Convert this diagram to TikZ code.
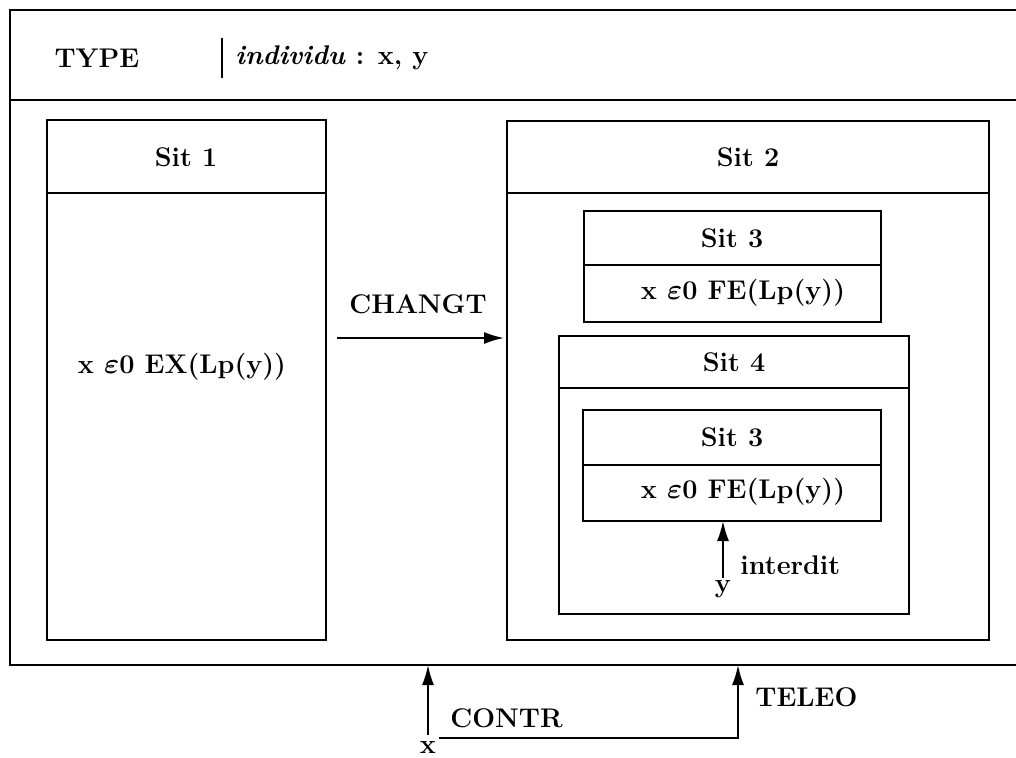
\documentclass[tikz,border=0pt]{standalone}
\usetikzlibrary{arrows.meta,fit}
\begin{document}
\begin{tikzpicture}[x=0.5pt,y=-0.5pt,
  frame/.style={line width=0.95pt},
  box/.style={draw,line width=0.95pt,inner sep=0pt},
  lbl/.style={font=\fontsize{13.5}{16}\selectfont\bfseries,inner sep=1pt},
  arr/.style={line width=0.95pt,-{Latex[length=10pt,width=6pt]}}]
\useasboundingbox (0,0) rectangle (1016,758);
% outer frame
\draw[frame] (1016,10) -- (10,10) -- (10,665) -- (1016,665);
\draw[frame] (10,100) -- (1016,100);
\node[lbl] (type) at (97,58) {TYPE};
\draw[frame] (222,38) -- (222,78);
\node[lbl,anchor=west] (indiv) at (233,58) {\textit{individu} : x, y};
% Sit 1
\node[box,fit={(47,120)(326,640)}] (sit1) {};
\draw[frame] (47,193) -- (326,193);
\node[lbl] (s1t) at (186,157) {Sit 1};
\node[lbl] (s1c) at (182,367) {x {\boldmath$\varepsilon$}0 EX(Lp(y))};
% Sit 2
\node[box,fit={(507,121)(989,640)}] (sit2) {};
\draw[frame] (507,193) -- (989,193);
\node[lbl] (s2t) at (748,157) {Sit 2};
% Sit 3 (top)
\node[box,fit={(584,211)(881,322)}] (sit3a) {};
\draw[frame] (584,265) -- (881,265);
\node[lbl] (s3at) at (732,238) {Sit 3};
\node[lbl] (s3ac) at (743,293) {x {\boldmath$\varepsilon$}0 FE(Lp(y))};
% Sit 4
\node[box,fit={(559,336)(909,614)}] (sit4) {};
\draw[frame] (559,388) -- (909,388);
\node[lbl] (s4t) at (734,362) {Sit 4};
% Sit 3 (inner)
\node[box,fit={(583,410)(881,521)}] (sit3b) {};
\draw[frame] (583,465) -- (881,465);
\node[lbl] (s3bt) at (732,437) {Sit 3};
\node[lbl] (s3bc) at (743,492) {x {\boldmath$\varepsilon$}0 FE(Lp(y))};
% interdit
\node[lbl] (yv) at (723,589) {y};
\draw[arr] (723,578) -- (723,521);
\node[lbl,anchor=west] (interdit) at (738,565) {interdit};
% CHANGT
\coordinate (c1) at (337,338);
\coordinate (c2) at (504,338);
\draw[arr] (c1) -- (c2);
\node[lbl] (changt) at (418,304) {CHANGT};
% CONTR / TELEO
\node[lbl] (xv) at (428,748) {x};
\coordinate (xa) at (428,735);
\coordinate (xt) at (428,665);
\draw[arr] (xa) -- (xt);
\coordinate (h1) at (439,738);
\coordinate (h2) at (738,738);
\coordinate (h3) at (738,665);
\draw[arr] (h1) -- (h2) -- (h3);
\node[lbl,anchor=west] (contr) at (448,718) {CONTR};
\node[lbl,anchor=west] (teleo) at (753,697) {TELEO};
\end{tikzpicture}
\end{document}
